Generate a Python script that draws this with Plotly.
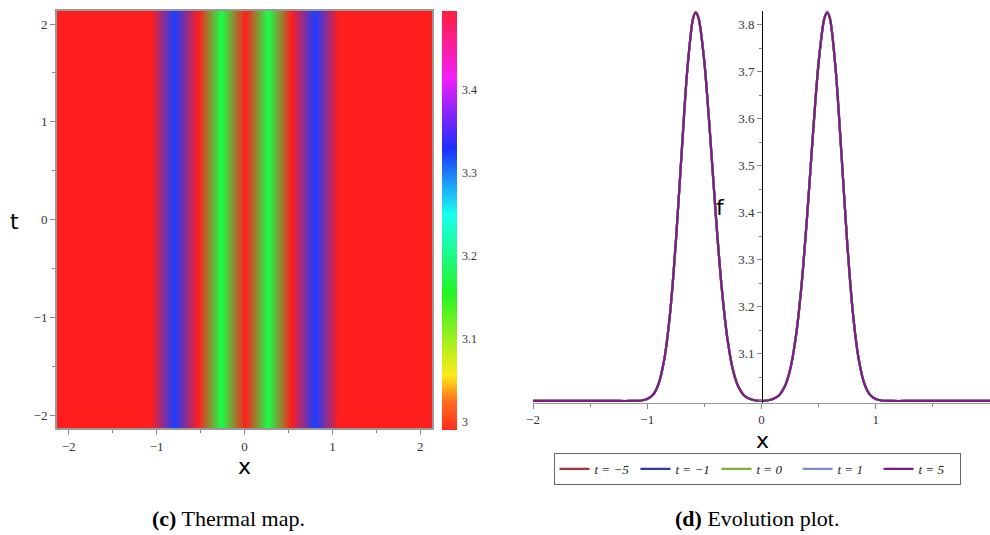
import plotly.graph_objects as go

# ---------------- thermal map (left) ----------------
# grid vertices across x (the map is constant along t)
grid_x = [-2.133, -1.867, -1.6, -1.333, -1.067, -0.8, -0.533, -0.267, 0.0,
          0.267, 0.533, 0.8, 1.067, 1.333, 1.6, 1.867, 2.133]
grid_t = [-2.133, 2.133]
# shading band at each vertex: -1 = green, 0 = red, 1 = blue
band_level = [0, 0, 0, 0, 0, 1, 0, -1, 0, -1, 0, 1, 0, 0, 0, 0, 0]

# colour bar of the map
cbar_min, cbar_max = 2.99, 3.495
cbar_ticks = [3, 3.1, 3.2, 3.3, 3.4]
cbar_labels = ["3", "3.1", "3.2", "3.3", "3.4"]
hue_scale = [
    [0.0, "rgb(255,45,30)"],
    [0.07, "rgb(255,110,30)"],
    [0.13, "rgb(255,235,25)"],
    [0.325, "rgb(35,245,35)"],
    [0.515, "rgb(25,255,240)"],
    [0.673, "rgb(30,45,255)"],
    [0.842, "rgb(245,30,245)"],
    [1.0, "rgb(255,30,60)"],
]
band_scale = [[0.0, "rgb(25,255,70)"], [0.5, "rgb(255,30,30)"], [1.0, "rgb(30,60,255)"]]

# ---------------- evolution plot (right) ----------------
x_pts = [-2.0, -1.6, -1.3, -1.15, -1.05, -1.0, -0.95, -0.9, -0.85, -0.8, -0.75,
         -0.7, -0.65, -0.6, -0.576, -0.55, -0.5, -0.45, -0.4, -0.35, -0.3,
         -0.25, -0.2, -0.15, -0.1, -0.05, 0.0,
         0.05, 0.1, 0.15, 0.2, 0.25, 0.3, 0.35, 0.4, 0.45, 0.5, 0.55, 0.576,
         0.6, 0.65, 0.7, 0.75, 0.8, 0.85, 0.9, 0.95, 1.0, 1.05, 1.15, 1.3,
         1.6, 2.0]
f_pts = [3.0, 3.0, 3.0, 3.0, 3.001, 3.004, 3.013, 3.037, 3.090, 3.187, 3.337,
         3.524, 3.702, 3.812, 3.826, 3.813, 3.720, 3.566, 3.395, 3.245, 3.135,
         3.066, 3.029, 3.011, 3.004, 3.001, 3.0,
         3.001, 3.004, 3.011, 3.029, 3.066, 3.135, 3.245, 3.395, 3.566, 3.720,
         3.813, 3.826, 3.812, 3.702, 3.524, 3.337, 3.187, 3.090, 3.037, 3.013,
         3.004, 3.001, 3.0, 3.0, 3.0, 3.0]
t_values = ["−5", "−1", "0", "1", "5"]
t_colors = ["#A8323F", "#2E3BA6", "#7FAE3C", "#7A90BF", "#7B1F7F"]
f_ticks = [3.1, 3.2, 3.3, 3.4, 3.5, 3.6, 3.7, 3.8]
x_ticks = [-2, -1, 0, 1, 2]

W, H = 990, 535
serif = "Liberation Serif"
sans = "DejaVu Sans"
tick_font = dict(family=serif, size=13, color="#333")

fig = go.Figure()

fig.add_trace(go.Heatmap(
    x=grid_x, y=grid_t, z=[band_level, band_level],
    colorscale=band_scale, zmin=-1, zmax=1, zsmooth="best",
    showscale=False, hoverinfo="skip", xaxis="x", yaxis="y"))

# colour bar carrier (points lie outside the visible range)
fig.add_trace(go.Scatter(
    x=[50, 50], y=[50, 50], mode="markers",
    marker=dict(color=[cbar_min, cbar_max], colorscale=hue_scale,
                cmin=cbar_min, cmax=cbar_max, size=1, showscale=True,
                colorbar=dict(x=442 / W, xanchor="left", xpad=0, ypad=0,
                              y=1 - 220.5 / H, yanchor="middle",
                              len=419, lenmode="pixels",
                              thickness=15, thicknessmode="pixels",
                              outlinewidth=0, ticks="outside", ticklen=3,
                              tickcolor="rgba(0,0,0,0)",
                              tickvals=cbar_ticks, ticktext=cbar_labels,
                              tickfont=dict(family=serif, size=12, color="#333"))),
    showlegend=False, hoverinfo="skip", xaxis="x", yaxis="y"))

for tv, col in zip(t_values, t_colors):
    fig.add_trace(go.Scatter(
        x=x_pts, y=f_pts, mode="lines",
        line=dict(color=col, width=2.2, shape="spline", smoothing=0.8),
        name=f"t = {tv}", xaxis="x2", yaxis="y2"))

axis_common = dict(showgrid=False, zeroline=False, ticks="outside", ticklen=5,
                   tickcolor="#888", tickfont=tick_font)


def label(text, px, py, size=22, family=sans):
    return dict(text=text, x=px / W, y=1 - py / H, xref="paper", yref="paper",
                xanchor="center", yanchor="middle", showarrow=False,
                font=dict(family=family, size=size, color="black"))


fig.update_layout(
    width=W, height=H, margin=dict(l=0, r=0, t=0, b=0, autoexpand=False),
    paper_bgcolor="white", plot_bgcolor="white",
    xaxis=dict(domain=[57 / W, 432 / W], range=[-2.133, 2.133], anchor="y",
               tickvals=x_ticks, showline=True, linecolor="#999", linewidth=2, mirror=True,
               minor=dict(dtick=0.5, ticks="outside", ticklen=3, tickcolor="#888"),
               **axis_common),
    yaxis=dict(domain=[1 - 428 / H, 1 - 11 / H], range=[-2.133, 2.133], anchor="x",
               tickvals=x_ticks, showline=True, linecolor="#999", linewidth=2, mirror=True,
               minor=dict(dtick=0.5, ticks="outside", ticklen=3, tickcolor="#888"),
               **axis_common),
    xaxis2=dict(domain=[533 / W, 1.0], range=[-2, 2], anchor="y2",
                tickvals=x_ticks, showline=True, linecolor="#999", linewidth=1,
                minor=dict(dtick=0.5, ticks="outside", ticklen=3, tickcolor="#888"),
                **axis_common),
    yaxis2=dict(domain=[1 - 402.6 / H, 1 - 11 / H], range=[2.9965, 3.829],
                anchor="free", position=762 / W,
                tickvals=f_ticks, showline=True, linecolor="black", linewidth=1,
                minor=dict(dtick=0.05, ticks="outside", ticklen=3, tickcolor="#888"),
                **axis_common),
    legend=dict(orientation="h", x=757 / W, xanchor="center", y=1 - 469 / H,
                yanchor="middle", bordercolor="#666", borderwidth=1,
                font=dict(family=serif, size=13, color="#222", style="italic"),
                entrywidth=36, entrywidthmode="pixels", tracegroupgap=0),
    annotations=[
        label("x", 244, 466),
        label("t", 14, 221),
        label("x", 762, 440),
        label("f", 720, 207),
        label("<b>(c)</b> Thermal map.", 228, 518, family=serif),
        label("<b>(d)</b> Evolution plot.", 757, 518, family=serif),
    ],
)

fig.write_html("out.html")
